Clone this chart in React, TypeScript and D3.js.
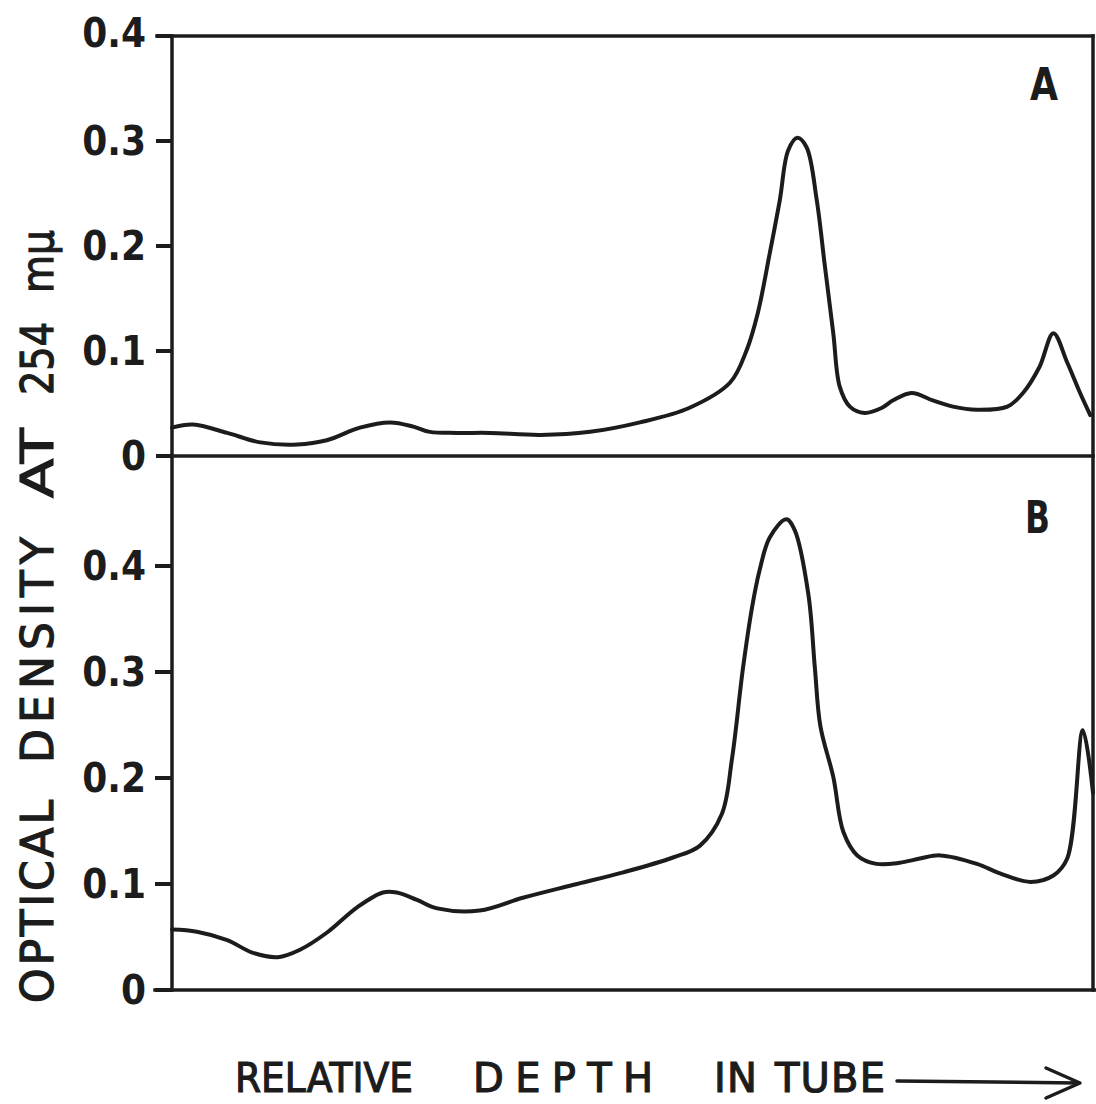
import React from "react";
import * as d3 from "d3";

// Panel A: relative depth (%) and optical density
const depthA = [0, 2.3, 6.0, 9.6, 13.6, 16.8, 20.4, 23.7, 26.2, 28.0, 30.9, 34.5, 40.0, 45.4, 50.8, 56.2, 60.6, 62.4, 63.6, 64.9, 66.0, 66.9, 67.9, 68.9, 70.0, 70.9, 71.8, 72.5, 73.6, 75.2, 77.1, 78.3, 80.3, 82.6, 84.8, 87.4, 90.7, 92.4, 94.2, 95.7, 97.2, 98.6, 99.7];
const odA = [0.027, 0.030, 0.022, 0.013, 0.011, 0.015, 0.027, 0.032, 0.028, 0.023, 0.022, 0.022, 0.020, 0.023, 0.032, 0.046, 0.070, 0.101, 0.136, 0.193, 0.244, 0.291, 0.303, 0.294, 0.244, 0.180, 0.117, 0.066, 0.047, 0.041, 0.046, 0.053, 0.060, 0.053, 0.047, 0.044, 0.047, 0.060, 0.085, 0.117, 0.089, 0.060, 0.039];

// Panel B
const depthB = [0, 2.7, 6.0, 8.8, 11.5, 13.9, 16.8, 20.1, 22.9, 24.4, 26.6, 28.8, 33.4, 38.1, 43.5, 49.0, 54.4, 57.3, 59.7, 60.8, 62.0, 63.0, 63.8, 64.9, 66.7, 67.6, 69.1, 69.8, 70.4, 71.8, 72.9, 74.4, 76.5, 79.0, 81.2, 83.4, 87.4, 89.9, 93.2, 95.7, 97.2, 98.9, 100];
const odB = [0.057, 0.055, 0.047, 0.035, 0.031, 0.038, 0.054, 0.078, 0.092, 0.092, 0.085, 0.077, 0.075, 0.087, 0.099, 0.111, 0.125, 0.136, 0.166, 0.218, 0.304, 0.362, 0.396, 0.427, 0.444, 0.434, 0.373, 0.304, 0.249, 0.201, 0.149, 0.127, 0.119, 0.120, 0.124, 0.127, 0.119, 0.110, 0.102, 0.108, 0.124, 0.245, 0.186];

const tickValues = [0, 0.1, 0.2, 0.3, 0.4];
const tickLabels = ["0", "0.1", "0.2", "0.3", "0.4"];

const yTitleWords = ["OPTICAL", "DENSITY", "AT", "254", "mμ"];
const xTitleWords = ["RELATIVE", "DEPTH", "IN", "TUBE"];
const panelNames = ["A", "B"];

const INK = "#1c1c1c";
const FAM = "'DejaVu Sans'";

export default function App() {
  const x = d3.scaleLinear().domain([0, 100]).range([172, 1093]);
  const yA = d3.scaleLinear().domain([0, 0.4]).range([456, 36]);
  const yB = d3.scaleLinear().domain([0, 0.4]).range([990, 566]);

  const mk = (ys: d3.ScaleLinear<number, number>) =>
    d3
      .line<[number, number]>()
      .x((d) => x(d[0]))
      .y((d) => ys(d[1]))
      .curve(d3.curveCatmullRom.alpha(0.5));

  const pathA = mk(yA)(depthA.map((d, i) => [d, odA[i]]));
  const pathB = mk(yB)(depthB.map((d, i) => [d, odB[i]]));

  const tickFont = { fontFamily: "'DejaVu Sans Condensed', 'DejaVu Sans'", fontWeight: 700, fontSize: 40 } as const;

  // layout of title words (extent along the text direction, fitting mode)
  const yTitleLayout = [
    { from: 1003, to: 800, adj: "spacing" },
    { from: 763, to: 537, adj: "spacing" },
    { from: 498, to: 428, adj: "spacingAndGlyphs" },
    { from: 395, to: 322, adj: "spacingAndGlyphs" },
    { from: 293, to: 230, adj: "spacingAndGlyphs" },
  ];
  const xTitleLayout = [
    { from: 235, to: 413, adj: "spacingAndGlyphs" },
    { from: 473, to: 653, adj: "spacing" },
    { from: 714, to: 757, adj: "spacing" },
    { from: 775, to: 885, adj: "spacing" },
  ];
  const panelLayout = [
    { x: 1030, y: 100, w: 28 },
    { x: 1025, y: 533, w: 25 },
  ];

  const axisX = x(0);
  const rightX = x(100);

  return (
    <svg
      width={1096}
      height={1104}
      style={{ position: "absolute", left: 0, top: 0, background: "#fff" }}
    >
      <rect x={0} y={0} width={1096} height={1104} fill="#fff" />
      {/* frame */}
      <g stroke={INK} strokeWidth={3.5} fill="none" strokeLinecap="square">
        <line x1={157} y1={yA(0.4)} x2={rightX} y2={yA(0.4)} />
        <line x1={axisX} y1={yA(0.4)} x2={axisX} y2={yB(0)} />
        <line x1={axisX} y1={yA(0)} x2={rightX} y2={yA(0)} />
        <line x1={rightX} y1={yA(0.4)} x2={rightX} y2={yB(0)} />
        <line x1={155} y1={yB(0)} x2={1096} y2={yB(0)} />
      </g>
      {/* ticks */}
      <g stroke={INK} strokeWidth={4}>
        {tickValues.map((t) => (
          <line key={"a" + t} x1={156} x2={axisX} y1={yA(t)} y2={yA(t)} />
        ))}
        {tickValues.map((t) => (
          <line key={"b" + t} x1={155} x2={axisX} y1={yB(t)} y2={yB(t)} />
        ))}
      </g>
      <g fill={INK} style={tickFont} textAnchor="end">
        {tickValues.map((t, i) => (
          <text key={"la" + t} x={146} y={yA(t) + (t === 0.4 ? 11 : 14)}>
            {tickLabels[i]}
          </text>
        ))}
        {tickValues.map((t, i) => (
          <text key={"lb" + t} x={146} y={yB(t) + 14}>
            {tickLabels[i]}
          </text>
        ))}
      </g>
      {/* curves */}
      <path d={pathA || ""} fill="none" stroke={INK} strokeWidth={4} strokeLinejoin="round" strokeLinecap="round" />
      <path d={pathB || ""} fill="none" stroke={INK} strokeWidth={4} strokeLinejoin="round" strokeLinecap="round" />
      {/* panel labels */}
      {panelNames.map((p, i) => (
        <text
          key={p}
          x={panelLayout[i].x}
          y={panelLayout[i].y}
          fill={INK}
          style={{ ...tickFont, fontSize: 44 }}
          textLength={panelLayout[i].w}
          lengthAdjust="spacingAndGlyphs"
        >
          {p}
        </text>
      ))}
      {/* y title */}
      <g fill={INK} stroke={INK} strokeWidth={1.2} fontSize={44} fontFamily={FAM}>
        {yTitleWords.map((w, i) => {
          const L = yTitleLayout[i];
          return (
            <text
              key={w}
              transform={`translate(53, ${L.from}) rotate(-90)`}
              textLength={L.from - L.to}
              lengthAdjust={L.adj}
            >
              {w}
            </text>
          );
        })}
      </g>
      {/* x title */}
      <g fill={INK} stroke={INK} strokeWidth={1.2} fontSize={40} fontFamily={FAM}>
        {xTitleWords.map((w, i) => {
          const L = xTitleLayout[i];
          return (
            <text key={w} x={L.from} y={1092} textLength={L.to - L.from} lengthAdjust={L.adj}>
              {w}
            </text>
          );
        })}
      </g>
      {/* arrow */}
      <g stroke={INK} strokeWidth={3.5} fill="none" strokeLinecap="round" strokeLinejoin="round">
        <line x1={897} y1={1081} x2={1078} y2={1083} />
        <polyline points="1046,1068 1080,1083 1046,1098" />
      </g>
    </svg>
  );
}
